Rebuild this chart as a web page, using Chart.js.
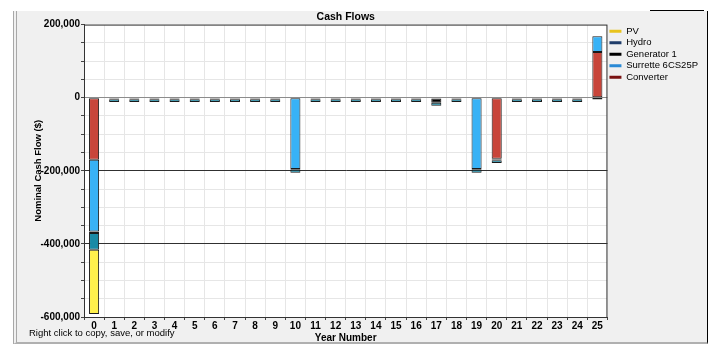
<!DOCTYPE html>
<html>
<head>
<meta charset="utf-8">
<script src="https://cdn.jsdelivr.net/npm/chart.js@4.4.1/dist/chart.umd.min.js"></script>
<style>
  body { margin: 0; background: #fff; font-family: "Liberation Sans", Arial, sans-serif; }
  #wrap { position: relative; width: 715px; height: 356px; }
  #panel { position: absolute; left: 13px; top: 11px; width: 690px; height: 331px; background: #f0f0f0;
           border-left: 4px double #a8a8a8; border-right: 1px solid #000; border-bottom: 2px solid #b0b0b0; }
  #topline { position: absolute; left: 650px; top: 10px; width: 54px; height: 1px; background: #000; }
  #hint { position: absolute; left: 29px; top: 327px; font-size: 9.5px; color: #000; }
  canvas { position: absolute; left: 0; top: 0; }
</style>
</head>
<body>
<div id="wrap">
  <div id="panel"></div>
  <div id="topline"></div>
  <canvas id="cashChart" width="715" height="356"></canvas>
  <div id="hint">Right click to copy, save, or modify</div>
</div>
<script>
/* Cash flows by year, nominal $ */
const years = ['0','1','2','3','4','5','6','7','8','9','10','11','12','13','14','15','16','17','18','19','20','21','22','23','24','25'];

const converter = [-170000, 0, 0, 0, 0, 0, 0, 0, 0, 0, 0, 0, 0, 0, 0, 0, 0, 0, 0, 0, -167000, 0, 0, 0, 0, 125000];
const surrette  = [-196000, -2000, -2000, -2000, -2000, -2000, -2000, -2000, -2000, -2000, -195000, -2000, -2000, -2000, -2000, -2000, -2000, -2000, -2000, -195000, -2000, -2000, -2000, -2000, -2000, 43000];
const generator = [-4000, -2000, -2000, -2000, -2000, -2000, -2000, -2000, -2000, -2000, -2000, -2000, -2000, -2000, -2000, -2000, -2000, -12000, -2000, -2000, -2000, -2000, -2000, -2000, -2000, -1000];
const hydro     = [-46000, -8000, -8000, -8000, -8000, -8000, -8000, -8000, -8000, -8000, -8000, -8000, -8000, -8000, -8000, -8000, -8000, -8000, -8000, -8000, -8000, -8000, -8000, -8000, -8000, -4000];
const pv        = [-176000, 0, 0, 0, 0, 0, 0, 0, 0, 0, 0, 0, 0, 0, 0, 0, 0, 0, 0, 0, 0, 0, 0, 0, 0, 0];

const yMin = -600000, yMax = 200000, yStep = 50000, yLabelStep = 200000;

const seriesNames  = ['Converter', 'Surrette 6CS25P', 'Generator 1', 'Hydro', 'PV'];
const barColors    = ['#c8453a', '#38b2f6', '#000000', '#1a8aa6', '#fff04c'];
const legendColors = ['#7a1212', '#2a8ad6', '#000000', '#1f3d6a', '#e8c31c'];

const FONT = '"Liberation Sans", Arial, sans-serif';

const plotFrame = {
  id: 'plotFrame',
  beforeDraw(chart) {
    const a = chart.chartArea, ctx = chart.ctx;
    ctx.save();
    ctx.fillStyle = '#fff';
    ctx.fillRect(a.left, a.top, a.right - a.left, a.bottom - a.top);
    ctx.restore();
  },
  afterDraw(chart) {
    const a = chart.chartArea, ctx = chart.ctx;
    ctx.save();
    ctx.strokeStyle = '#333';
    ctx.lineWidth = 1;
    ctx.strokeRect(a.left + 0.5, a.top + 0.5, a.right - a.left - 1, a.bottom - a.top);
    ctx.restore();
  }
};

const data = [converter, surrette, generator, hydro, pv];

new Chart(document.getElementById('cashChart'), {
  type: 'bar',
  data: {
    labels: years,
    datasets: data.map((d, i) => ({
      label: seriesNames[i],
      data: d,
      backgroundColor: barColors[i],
      borderColor: '#1a1a1a',
      borderWidth: 1,
      borderSkipped: false,
      categoryPercentage: 1,
      barPercentage: 0.5
    }))
  },
  options: {
    responsive: false,
    animation: false,
    devicePixelRatio: 1,
    layout: { padding: { left: 33, top: 11, right: 7, bottom: 12 } },
    plugins: {
      title: {
        display: true, text: 'Cash Flows', fullSize: false, color: '#000',
        font: { family: FONT, size: 10.5, weight: 'bold' }, padding: { top: 0, bottom: 1 }
      },
      legend: {
        position: 'right', align: 'start', reverse: true, fullSize: false,
        labels: {
          font: { family: FONT, size: 9.5 }, color: '#000', padding: 2,
          usePointStyle: true, pointStyle: 'line', pointStyleWidth: 12,
          generateLabels(chart) {
            return chart.data.datasets.map((ds, i) => ({
              text: ds.label, datasetIndex: i, pointStyle: 'line',
              strokeStyle: legendColors[i], fillStyle: legendColors[i], lineWidth: 3,
              fontColor: '#000'
            }));
          }
        }
      },
      tooltip: { enabled: false }
    },
    scales: {
      x: {
        stacked: true,
        grid: { offset: true, color: '#e6e6e6', tickColor: '#444', tickLength: 3 },
        border: { color: '#444' },
        ticks: { color: '#000', font: { family: FONT, size: 10, weight: 'bold' }, padding: 0, maxRotation: 0, autoSkip: false },
        title: { display: true, text: 'Year Number', color: '#000', font: { family: FONT, size: 10, weight: 'bold' }, padding: { top: 0, bottom: 0 } }
      },
      y: {
        stacked: true,
        min: yMin, max: yMax,
        afterFit(scale) { scale.width = 51; },
        grid: {
          color: ctx => {
            const v = ctx.tick && ctx.tick.value;
            if (v === 0) return '#8c8c8c';
            if (v === -200000 || v === -400000) return '#303030';
            return '#e6e6e6';
          },
          tickColor: '#444', tickLength: 3
        },
        border: { color: '#444' },
        ticks: {
          stepSize: yStep, color: '#000', padding: 1,
          font: { family: FONT, size: 10, weight: 'bold' },
          callback: v => (v % yLabelStep === 0 ? v.toLocaleString('en-US') : '')
        },
        title: { display: true, text: 'Nominal Cash Flow ($)', color: '#000', font: { family: FONT, size: 9.5, weight: 'bold' }, padding: { top: 0, bottom: 4 } }
      }
    }
  },
  plugins: [plotFrame]
});
</script>
</body>
</html>
